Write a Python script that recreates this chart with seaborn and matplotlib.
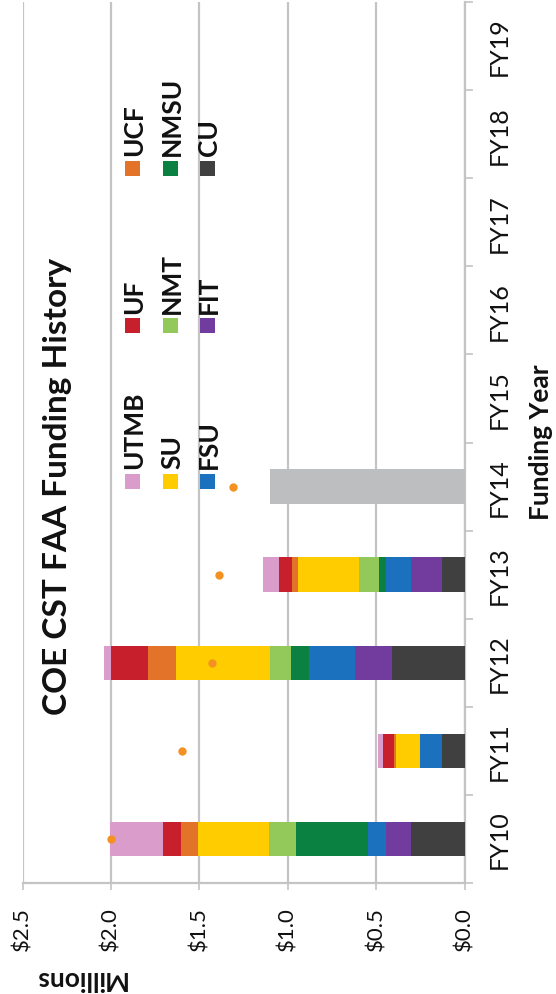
import numpy as np
import pandas as pd
import matplotlib
matplotlib.use("Agg")
import matplotlib.pyplot as plt
from matplotlib.patches import Rectangle
import seaborn as sns

# ---------------- data ----------------
categories = ["FY10", "FY11", "FY12", "FY13", "FY14", "FY15", "FY16", "FY17", "FY18", "FY19"]
# stack order from the base (value 0) outward
series_names = ["CU", "FIT", "FSU", "NMSU", "NMT", "SU", "UCF", "UF", "UTMB"]
CU   = [0.30, 0.13, 0.41, 0.13, 0, 0, 0, 0, 0, 0]
FIT  = [0.145, 0.00, 0.21, 0.175, 0, 0, 0, 0, 0, 0]
FSU  = [0.10, 0.12, 0.26, 0.14, 0, 0, 0, 0, 0, 0]
NMSU = [0.41, 0.00, 0.10, 0.04, 0, 0, 0, 0, 0, 0]
NMT  = [0.15, 0.00, 0.12, 0.11, 0, 0, 0, 0, 0, 0]
SU   = [0.40, 0.14, 0.53, 0.345, 0, 0, 0, 0, 0, 0]
UCF  = [0.10, 0.01, 0.16, 0.035, 0, 0, 0, 0, 0, 0]
UF   = [0.10, 0.06, 0.21, 0.075, 0, 0, 0, 0, 0, 0]
UTMB = [0.30, 0.03, 0.04, 0.09, 0, 0, 0, 0, 0, 0]
series_values = [CU, FIT, FSU, NMSU, NMT, SU, UCF, UF, UTMB]
pending = [0, 0, 0, 0, 1.10, 0, 0, 0, 0, 0]           # grey FY14 bar
dot_years = ["FY10", "FY11", "FY12", "FY13", "FY14"]
dot_values = [2.00, 1.60, 1.43, 1.39, 1.31]
value_ticks = [0.0, 0.5, 1.0, 1.5, 2.0, 2.5]
value_labels = ["$0.0", "$0.5", "$1.0", "$1.5", "$2.0", "$2.5"]
legend_order = ["UTMB", "UF", "UCF", "SU", "NMT", "NMSU", "FSU", "FIT", "CU"]

colors = {
    "UTMB": "#DA9CCA", "UF": "#C71F2B", "UCF": "#E4732A", "SU": "#FFCC00",
    "NMT": "#93C95A", "NMSU": "#0B8141", "FSU": "#1C71BF", "FIT": "#713C9D",
    "CU": "#404040",
}
grey_bar = "#BDBEC0"
dot_color = "#F39222"
grid_color = "#C4C4C4"
text_color = "#111111"

FONT = ["Lato", "DejaVu Sans"]

sns.set_theme(style="white")
plt.rcParams["font.family"] = FONT

W, H = 556, 995
fig = plt.figure(figsize=(W / 100, H / 100), dpi=100)
L, R, T, B = 22.5, 464.5, 3, 884
ax = fig.add_axes([L / W, 1 - B / H, (R - L) / W, (B - T) / H])

order = categories[::-1]
cum = np.zeros(len(categories))
cums = []
for vals in series_values:
    cum = cum + np.array(vals)
    cums.append(cum.copy())

bar_w = 0.39
# draw outermost cumulative first so inner segments overlay
for name, c in reversed(list(zip(series_names, cums))):
    d = pd.DataFrame({"year": categories, "value": c})
    sns.barplot(data=d, x="value", y="year", order=order, orient="h",
                color=colors[name], saturation=1, width=bar_w,
                linewidth=0, errorbar=None, ax=ax, zorder=3)

dp = pd.DataFrame({"year": categories, "value": pending})
sns.barplot(data=dp, x="value", y="year", order=order, orient="h",
            color=grey_bar, saturation=1, width=bar_w, linewidth=0,
            errorbar=None, ax=ax, zorder=3)

dd = pd.DataFrame({"year": dot_years, "value": dot_values})
sns.stripplot(data=dd, x="value", y="year", order=order, orient="h",
              jitter=False, size=6, color=dot_color, linewidth=0,
              ax=ax, zorder=6)

ax.set_xlim(2.5, 0)
ax.set_ylim(len(categories) - 0.5, -0.5)

# value axis (bottom)
ax.set_xticks(value_ticks)
ax.set_xticklabels(value_labels)
ax.tick_params(axis="x", bottom=True, length=5, width=1.2, color=grid_color,
               labelrotation=90, labelsize=16, pad=12, labelcolor=text_color)
ax.xaxis.grid(True, color=grid_color, linewidth=1.6, zorder=0)
ax.set_axisbelow(True)
ax.yaxis.grid(False)

# category axis (right)
ax.yaxis.tick_right()
ax.tick_params(axis="y", which="major", length=0, labelrotation=90,
               labelsize=18, pad=17, labelcolor=text_color, right=True, left=False)
ax.set_yticks(np.arange(-0.5, len(categories), 1.0), minor=True)
ax.tick_params(axis="y", which="minor", length=6, width=1.2, color=grid_color,
               right=True, left=False)
for lab in ax.get_yticklabels():
    lab.set_verticalalignment("center")

ax.set_xlabel("")
ax.set_ylabel("")
for s in ["top", "left"]:
    ax.spines[s].set_visible(False)
for s in ["right", "bottom"]:
    ax.spines[s].set_visible(True)
    ax.spines[s].set_color(grid_color)
    ax.spines[s].set_linewidth(1.6)

# axis titles (rotated as in the reference)
fig.text(541 / W, 1 - 442 / H, "Funding Year", rotation=90, ha="center",
         va="center", fontsize=19, fontweight="bold", color=text_color)
fig.text(80 / W, 1 - 979 / H, "Millions", rotation=180, ha="center",
         va="center", fontsize=19, fontweight="bold", color=text_color)

# chart title
fig.text(58 / W, 1 - 486 / H, "COE CST FAA Funding History", rotation=90,
         ha="center", va="center", fontsize=24, fontweight="bold",
         color=text_color)

# legend (rotated, drawn manually)
col_x = [132, 170, 207]
row_y = [482, 326, 169]
sq = 15
for i, name in enumerate(legend_order):
    cx = col_x[i // 3]
    cy = row_y[i % 3]
    fig.add_artist(Rectangle(((cx - sq / 2) / W, 1 - (cy + sq / 2) / H),
                             sq / W, sq / H, transform=fig.transFigure,
                             facecolor=colors[name], edgecolor="none"))
    fig.text((cx + 2) / W, 1 - (cy - sq / 2 - 5) / H, name, rotation=90,
             ha="center", va="bottom", fontsize=19, fontweight="bold",
             color=text_color)

fig.savefig("out.png", dpi=100)
